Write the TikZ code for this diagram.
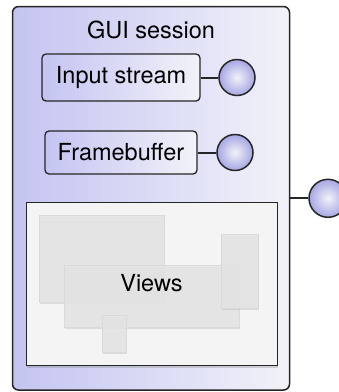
\documentclass[tikz,border=0pt]{standalone}
\usepackage{fontspec}
\setmainfont{TeX Gyre Heros}
\usetikzlibrary{shadows}
\definecolor{lavender}{HTML}{C4C4F2}
\definecolor{paleblue}{HTML}{F2F2F9}
\definecolor{portblue}{HTML}{A6A6E4}
\definecolor{viewgray}{HTML}{E6E6E6}
\definecolor{panelgray}{HTML}{F4F4F4}
\begin{document}
\begin{tikzpicture}[x=1pt,y=-1pt,
  every node/.style={font=\fontsize{23.5}{28}\selectfont},
  sessionbox/.style={draw=black!85,line width=1.5pt,rounded corners=6pt,left color=lavender,right color=paleblue},
  portbox/.style={draw=black!85,line width=1.3pt,rounded corners=4pt,left color=lavender,right color=paleblue},
  port/.style={circle,draw=black!85,line width=1.5pt,inner color=paleblue,outer color=portblue,minimum size=36pt,inner sep=0pt},
  link/.style={line width=2pt,black!85},
  viewbox/.style={draw=black!15,line width=.6pt,fill=viewgray,fill opacity=.85,drop shadow={shadow xshift=1pt,shadow yshift=-2pt,opacity=.2}}]
\useasboundingbox (0,0) rectangle (339,392);
% session frame
\node[sessionbox,minimum width=277,minimum height=383.5] (session) at (151,198.3) {};
\node (title) at (151,29.5) {GUI session};
\node[port,minimum size=38pt] (sessport) at (328,198.3) {};
\draw[link] (session.east) -- (sessport);
% input stream and framebuffer
\node[portbox,minimum width=158,minimum height=47] (instream) at (121,77.5) {Input stream};
\node[port] (instreamport) at (237,77.5) {};
\draw[link] (instream) -- (instreamport);
\node[portbox,minimum width=152,minimum height=43] (fb) at (121,152.5) {Framebuffer};
\node[port] (fbport) at (235,152.5) {};
\draw[link] (fb) -- (fbport);
% views
\node[draw=black!85,line width=1pt,fill=panelgray,minimum width=251,minimum height=163,
  drop shadow={shadow xshift=1pt,shadow yshift=-3pt,opacity=.3}] (panel) at (151.5,283.5) {};
\node[viewbox,minimum width=125,minimum height=87] (backview) at (101.5,258.5) {};
\node[viewbox,minimum width=175,minimum height=62] (mainview) at (151.5,296) {};
\node (viewstitle) at (151.5,283) {Views};
\node[viewbox,minimum width=37,minimum height=74] (sideview) at (239.5,271) {};
\node[viewbox,minimum width=24,minimum height=37] (smallview) at (114,333.5) {};
\end{tikzpicture}
\end{document}
